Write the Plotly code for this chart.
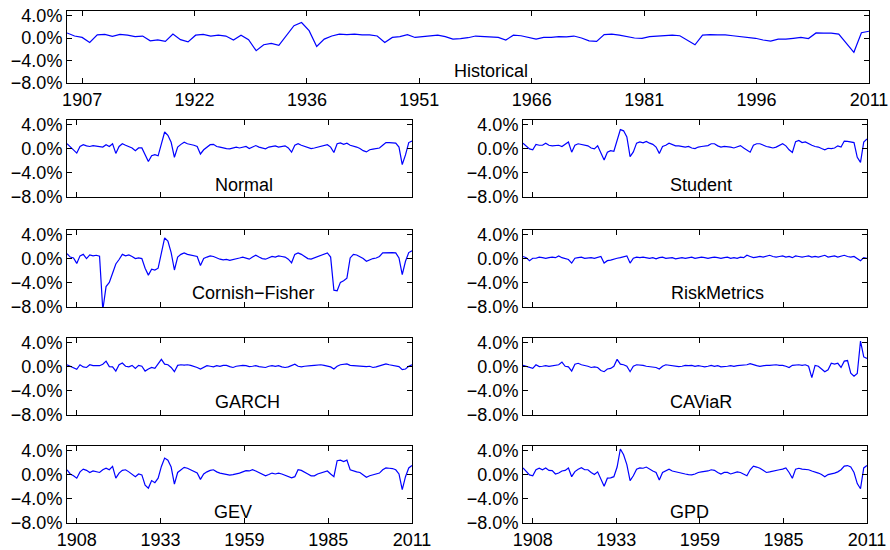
import plotly.graph_objects as go

years = list(range(1905, 2012))

historical = [
    0.9, 0.35, 0.1, -0.8, 0.55, 0.65, 0.3, 0.65, 0.5, 0.25,
    0.35, -0.5, -0.35, -0.6, 0.7, -0.3, -0.7, 0.5, 0.65, 0.35,
    0.5, 0.35, -0.35, 0.5, -0.3, -2.25, -1.2, -0.95, -1.3, 0.5,
    2.2, 2.75, 1.3, -1.5, -0.2, 0.35, 0.7, 0.6, 0.7, 0.55,
    0.55, 0.35, -0.8, 0.1, 0.25, 0.6, 0.1, 0.25, 0.35, 0.5,
    0.25, -0.2, -0.1, 0.05, 0.35, 0.25, 0.25, 0.1, -0.35, 0.5,
    0.4, 0.1, -0.2, 0.1, 0.1, 0.25, 0.2, 0.35, 0.0, -0.5,
    -0.6, 0.6, 0.7, 0.5, 0.25, 0.0, -0.05, 0.25, 0.35, 0.4,
    0.5, 0.4, -0.35, -1.2, 0.5, 0.6, 0.55, 0.55, 0.4, 0.25,
    0.1, -0.05, -0.35, -0.55, -0.2, -0.2, -0.05, 0.1, -0.1, 0.9,
    0.85, 0.85, 0.7, -0.95, -2.55, 0.95, 1.2,
]
normal = [
    0.85, 0.3, -0.3, -0.7, 0.4, 0.7, 0.5, 0.4, 0.55, 0.45,
    0.3, 0.3, 0.7, 0.4, 0.85, -0.75, 0.4, 0.85, 0.6, 0.4,
    0.15, -0.3, 0.15, 0.15, -0.95, -2.1, -1.15, -0.95, -1.15, 0.85,
    2.8, 2.25, 1.1, -1.4, 0.3, 0.75, 1.1, 0.85, 0.75, 0.6,
    0.4, -0.85, -0.15, 0.3, 0.7, 0.75, 0.4, 0.3, 0.15, 0.05,
    0.0, 0.1, 0.3, 0.15, 0.3, 0.4, 0.05, 0.3, 0.55, 0.3,
    0.15, 0.0, 0.3, 0.4, 0.5, 0.3, 0.4, 0.5, 0.15, -0.55,
    0.6, 0.85, 0.6, 0.4, 0.15, 0.05, 0.15, 0.3, 0.4, 0.55,
    0.7, 0.3, -0.6, 0.85, 1.0, 0.75, 0.95, 0.6, 0.5, 0.3,
    0.05, -0.3, -0.5, -0.15, -0.05, 0.0, 0.15, 0.6, 1.05, 1.05,
    1.0, 0.95, 0.3, -2.6, -1.0, 1.05, 1.3,
]
student = [
    0.95, 0.5, 0.0, -0.15, 0.75, 0.6, 0.6, 0.95, 0.6, 0.5,
    0.55, 0.6, 0.4, 0.85, 1.15, -0.55, 0.6, 0.85, 0.75, 0.55,
    0.5, 0.15, 0.0, 0.5, -0.55, -1.85, -0.55, -0.3, -0.4, 1.5,
    3.2, 3.0, 2.0, -1.3, -0.5, 0.95, 1.15, 1.0, 1.25, 0.95,
    0.75, 0.3, -0.75, 0.4, 0.6, 0.95, 0.75, 0.5, 0.5, 0.4,
    0.3, 0.4, 0.15, 0.05, 0.3, 0.4, 0.5, 0.55, 0.85, 0.85,
    0.5, 0.3, 0.4, 0.4, 0.3, 0.15, 0.4, 0.55, 0.15, -0.15,
    -0.55, 0.6, 0.85, 0.85, 0.6, 0.4, 0.3, 0.15, 0.3, 0.55,
    0.85, 0.5, -0.15, -0.6, 1.2, 1.4, 1.05, 1.15, 0.85, 0.6,
    0.4, 0.3, 0.05, -0.15, 0.1, 0.05, 0.15, 0.5, 0.3, 1.3,
    1.25, 1.15, 1.05, -1.4, -2.25, 1.15, 1.65,
]
cornish_fisher = [
    0.85, 0.3, 0.15, -0.75, 0.5, 0.75, 0.05, 0.65, 0.5, 0.6,
    0.45, -8.5, -4.6, -3.9, -2.4, -0.85, -0.1, 0.75, 0.5, 0.65,
    0.4, 0.05, 0.15, 0.05, -1.55, -2.7, -1.7, -1.85, -1.55, 1.05,
    3.5, 2.95, 1.05, -1.85, 0.3, 0.75, 1.0, 0.75, 0.65, 0.6,
    0.4, -1.1, 0.05, 0.3, 0.5, 0.4, 0.15, -0.05, -0.15, -0.1,
    -0.25, -0.15, 0.05, 0.15, 0.3, 0.15, -0.05, 0.3, 0.6, 0.3,
    0.05, -0.05, 0.15, 0.4, 0.3, 0.5, 0.4, 0.3, -0.05, -0.65,
    0.75, 1.0, 0.75, 0.4, 0.05, -0.05, 0.15, 0.3, 0.5, 0.75,
    1.0, 0.3, -5.2, -5.3, -3.9, -3.65, -3.2, 0.15, 0.75, 0.65,
    0.4, 0.05, -0.4, -0.15, 0.05, 0.15, 0.4, 1.0, 1.05, 1.05,
    1.05, 1.0, 0.15, -2.6, -0.4, 1.05, 1.35,
]
riskmetrics = [
    0.4, 0.2, -0.3, 0.1, 0.1, 0.3, 0.2, 0.1, 0.2, 0.3,
    0.2, 0.5, 0.2, 0.0, -0.1, -0.7, 0.1, 0.2, 0.3, 0.1,
    0.2, 0.2, 0.1, 0.3, 0.4, -0.7, -0.3, -0.2, 0.0, 0.1,
    0.2, 0.4, 0.5, -0.7, 0.1, 0.3, 0.2, 0.3, 0.2, 0.1,
    0.2, 0.0, 0.2, 0.3, 0.1, 0.2, 0.2, 0.0, 0.1, 0.2,
    0.1, 0.2, 0.3, 0.1, 0.2, 0.3, 0.2, 0.1, 0.2, 0.3,
    0.2, 0.1, 0.2, 0.3, 0.1, 0.2, 0.1, 0.3, 0.2, 0.6,
    0.4, 0.2, 0.3, 0.4, 0.3, 0.5, 0.6, 0.4, 0.3, 0.4,
    0.5, 0.3, 0.4, 0.2, 0.5, 0.4, 0.3, 0.4, 0.5, 0.3,
    0.4, 0.3, 0.5, 0.6, 0.3, 0.4, 0.5, 0.3, 0.4, 0.6,
    0.4, 0.3, 0.4, 0.1, -0.3, 0.2, 0.1,
]
garch = [
    0.35, 0.1, -0.25, -0.4, 0.35, 0.0, -0.1, 0.35, 0.2, 0.25,
    0.2, 0.45, 0.95, 0.05, 0.0, -0.7, 0.35, 0.65, 0.1, 0.0,
    0.25, -0.25, 0.25, 0.1, -0.7, -0.35, -0.1, -0.25, 0.6, 1.25,
    0.45, 0.35, -0.1, -0.8, 0.25, 0.35, 0.3, 0.35, 0.25, 0.1,
    -0.1, -0.35, 0.0, 0.2, 0.1, 0.0, 0.2, 0.1, 0.25, 0.25,
    0.05, -0.1, 0.1, 0.2, 0.25, 0.2, 0.05, 0.1, 0.2, 0.05,
    0.0, -0.1, 0.1, 0.2, 0.1, 0.2, 0.0, -0.1, 0.0, 0.25,
    0.45, 0.1, 0.0, 0.1, 0.2, 0.2, 0.25, 0.35, 0.35, 0.25,
    0.1, 0.0, -0.35, 0.1, 0.35, 0.4, 0.5, 0.25, 0.2, 0.1,
    0.1, 0.0, 0.05, 0.1, -0.1, 0.0, 0.2, 0.35, 0.5, 0.35,
    0.25, 0.2, 0.05, -0.45, -0.35, 0.1, 0.35,
]
caviar = [
    0.25, 0.1, -0.1, -0.25, 0.35, 0.05, 0.1, 0.2, 0.1, 0.2,
    0.3, 0.35, 0.8, 0.1, 0.0, -0.7, 0.45, 0.6, 0.35, 0.25,
    0.1, -0.1, 0.0, -0.1, -0.6, -0.8, -0.35, -0.25, 0.1, 1.25,
    0.45, 0.35, 0.1, -0.8, 0.1, 0.35, 0.35, 0.25, 0.1, 0.0,
    0.0, -0.1, -0.35, 0.1, 0.35, 0.25, 0.2, 0.1, 0.05, 0.1,
    0.25, 0.2, 0.25, 0.1, 0.2, 0.1, 0.0, 0.1, 0.25, 0.1,
    0.2, 0.0, 0.0, 0.1, 0.2, 0.1, 0.2, 0.25, 0.2, 0.35,
    0.55, 0.35, 0.2, 0.1, 0.2, 0.25, 0.25, 0.3, 0.35, 0.25,
    0.25, 0.1, -0.1, 0.25, 0.35, 0.35, 0.25, 0.35, 0.1, -1.8,
    0.25, 0.1, -0.35, -0.8, -0.5, 0.6, 0.45, 0.6, -0.1, 0.95,
    1.05, -1.05, -1.55, -1.1, 4.3, 1.65, 1.4,
]
gev = [
    0.85, 0.15, -0.15, -0.55, 0.5, 0.95, 0.75, 0.4, 0.65, 0.5,
    0.4, 0.85, 1.1, 0.85, 1.4, -0.55, 0.3, 0.75, 0.85, 0.5,
    0.15, -0.3, 0.15, 0.0, -1.7, -2.2, -0.95, -1.3, -0.55, 1.4,
    2.8, 2.45, 1.3, -1.55, 0.4, 0.85, 1.25, 1.1, 0.85, 0.65,
    0.3, -0.75, 0.15, 0.5, 0.75, 0.85, 0.5, 0.3, 0.15, 0.05,
    -0.05, 0.05, 0.15, 0.3, 0.5, 0.7, 0.65, 0.85, 0.65, 0.4,
    0.15, -0.15, 0.05, 0.3, 0.15, 0.3, 0.15, -0.05, -0.3, -0.5,
    -0.3, 0.85, 0.75, 0.4, 0.15, -0.15, -0.15, 0.15, 0.3, 0.5,
    0.65, 0.15, -0.3, 2.35, 2.45, 2.2, 2.45, 0.85, 0.65, 0.5,
    0.4, 0.05, -0.4, -0.15, 0.0, 0.05, 0.3, 0.85, 1.15, 1.1,
    1.05, 0.85, 0.15, -2.45, -0.3, 1.15, 1.55,
]
gpd = [
    1.15, 0.65, 0.0, -0.15, 0.85, 1.1, 0.85, 1.15, 0.75, 0.7,
    0.15, 0.3, 0.65, 0.75, 1.15, -0.3, 0.55, 0.95, 1.2, 0.85,
    0.85, 0.4, 0.05, 0.5, -0.85, -1.9, -0.55, -0.5, -0.3, 1.3,
    4.3, 3.35, 1.7, -0.95, -0.15, 0.95, 1.15, 1.1, 1.3, 0.95,
    0.65, 0.4, -0.85, 0.4, 0.65, 0.95, 0.65, 0.5, 0.4, 0.3,
    0.15, 0.05, 0.0, 0.15, 0.4, 0.5, 0.55, 0.65, 0.85, 0.75,
    0.4, 0.15, 0.4, 0.4, 0.15, 0.3, 0.5, 0.4, 0.05, -0.15,
    0.85, 1.45, 1.3, 1.1, 0.75, 0.4, 0.5, 0.65, 0.75, 0.85,
    0.95, 1.15, 0.4, -0.55, 0.95, 1.1, 0.95, 0.95, 0.85, 0.65,
    0.5, 0.3, 0.05, -0.3, 0.05, 0.15, 0.3, 0.5, 0.85, 1.45,
    1.55, 1.3, 0.4, -1.45, -2.3, 1.15, 1.55,
]

top_ticks = [1907, 1921.86, 1936.71, 1951.57, 1966.43, 1981.29, 1996.14, 2011]
top_labels = ["1907", "1922", "1936", "1951", "1966", "1981", "1996", "2011"]
sub_ticks = [1908, 1933.75, 1959.5, 1985.25, 2011]
sub_labels = ["1908", "1933", "1959", "1985", "2011"]
y_ticks = [-8, -4, 0, 4]
y_labels = ["\u22128.0%", "\u22124.0%", "0.0%", "4.0%"]

W, H = 890, 550
FONT = dict(family="Liberation Sans, Arial, sans-serif", size=18, color="black")
BLUE = "#0000FF"

LEFT, RIGHT, FULL = (67, 412), (523, 867), (67, 869)
ROWS = [(120, 197), (230, 307), (338, 415), (446, 523)]

# name, series, x px, y px, ticks, tick labels, show x labels, label x/y in axis domain
panels = [
    ("Historical", historical, FULL, (11, 83), top_ticks, top_labels, True, 0.480, 0.167),
    ("Normal", normal, LEFT, ROWS[0], sub_ticks, sub_labels, False, 0.423, 0.156),
    ("Student", student, RIGHT, ROWS[0], sub_ticks, sub_labels, False, 0.4215, 0.156),
    ("Cornish\u2212Fisher", cornish_fisher, LEFT, ROWS[1], sub_ticks, sub_labels, False, 0.357, 0.18),
    ("RiskMetrics", riskmetrics, RIGHT, ROWS[1], sub_ticks, sub_labels, False, 0.423, 0.18),
    ("GARCH", garch, LEFT, ROWS[2], sub_ticks, sub_labels, False, 0.423, 0.17),
    ("CAViaR", caviar, RIGHT, ROWS[2], sub_ticks, sub_labels, False, 0.4215, 0.17),
    ("GEV", gev, LEFT, ROWS[3], sub_ticks, sub_labels, True, 0.420, 0.147),
    ("GPD", gpd, RIGHT, ROWS[3], sub_ticks, sub_labels, True, 0.4215, 0.147),
]

fig = go.Figure()
layout = {}
annotations = []
for i, (name, vals, xpx, ypx, ticks, labels, show_x, lx, ly) in enumerate(panels, start=1):
    sfx = "" if i == 1 else str(i)
    fig.add_trace(go.Scatter(x=years, y=vals, mode="lines", line=dict(color=BLUE, width=1.2),
                             xaxis="x" + sfx, yaxis="y" + sfx, showlegend=False, hoverinfo="skip"))
    common = dict(showline=True, linecolor="black", linewidth=1, mirror="allticks",
                  ticks="inside", ticklen=5, tickcolor="black", showgrid=False, zeroline=False,
                  tickfont=FONT, automargin=False)
    layout["xaxis" + sfx] = dict(domain=[xpx[0] / W, xpx[1] / W], range=[1905, 2011],
                                 tickvals=ticks, ticktext=labels, showticklabels=show_x,
                                 anchor="y" + sfx, **common)
    layout["yaxis" + sfx] = dict(domain=[1 - ypx[1] / H, 1 - ypx[0] / H], range=[-8, 4.8],
                                 tickvals=y_ticks, ticktext=y_labels, anchor="x" + sfx, **common)
    annotations.append(dict(text=name, xref="x%s domain" % sfx, yref="y%s domain" % sfx,
                            x=lx, y=ly, xanchor="left", yanchor="middle", showarrow=False,
                            font=FONT))

fig.update_layout(width=W, height=H, margin=dict(l=0, r=0, t=0, b=0),
                  paper_bgcolor="white", plot_bgcolor="white", font=FONT,
                  annotations=annotations, **layout)
# page body has a default 8px margin; drop it so the figure sits at the window corner
fig.write_html("out.html", config={"displayModeBar": False},
               post_script="document.body.style.margin='0';document.body.style.overflow='hidden';")
